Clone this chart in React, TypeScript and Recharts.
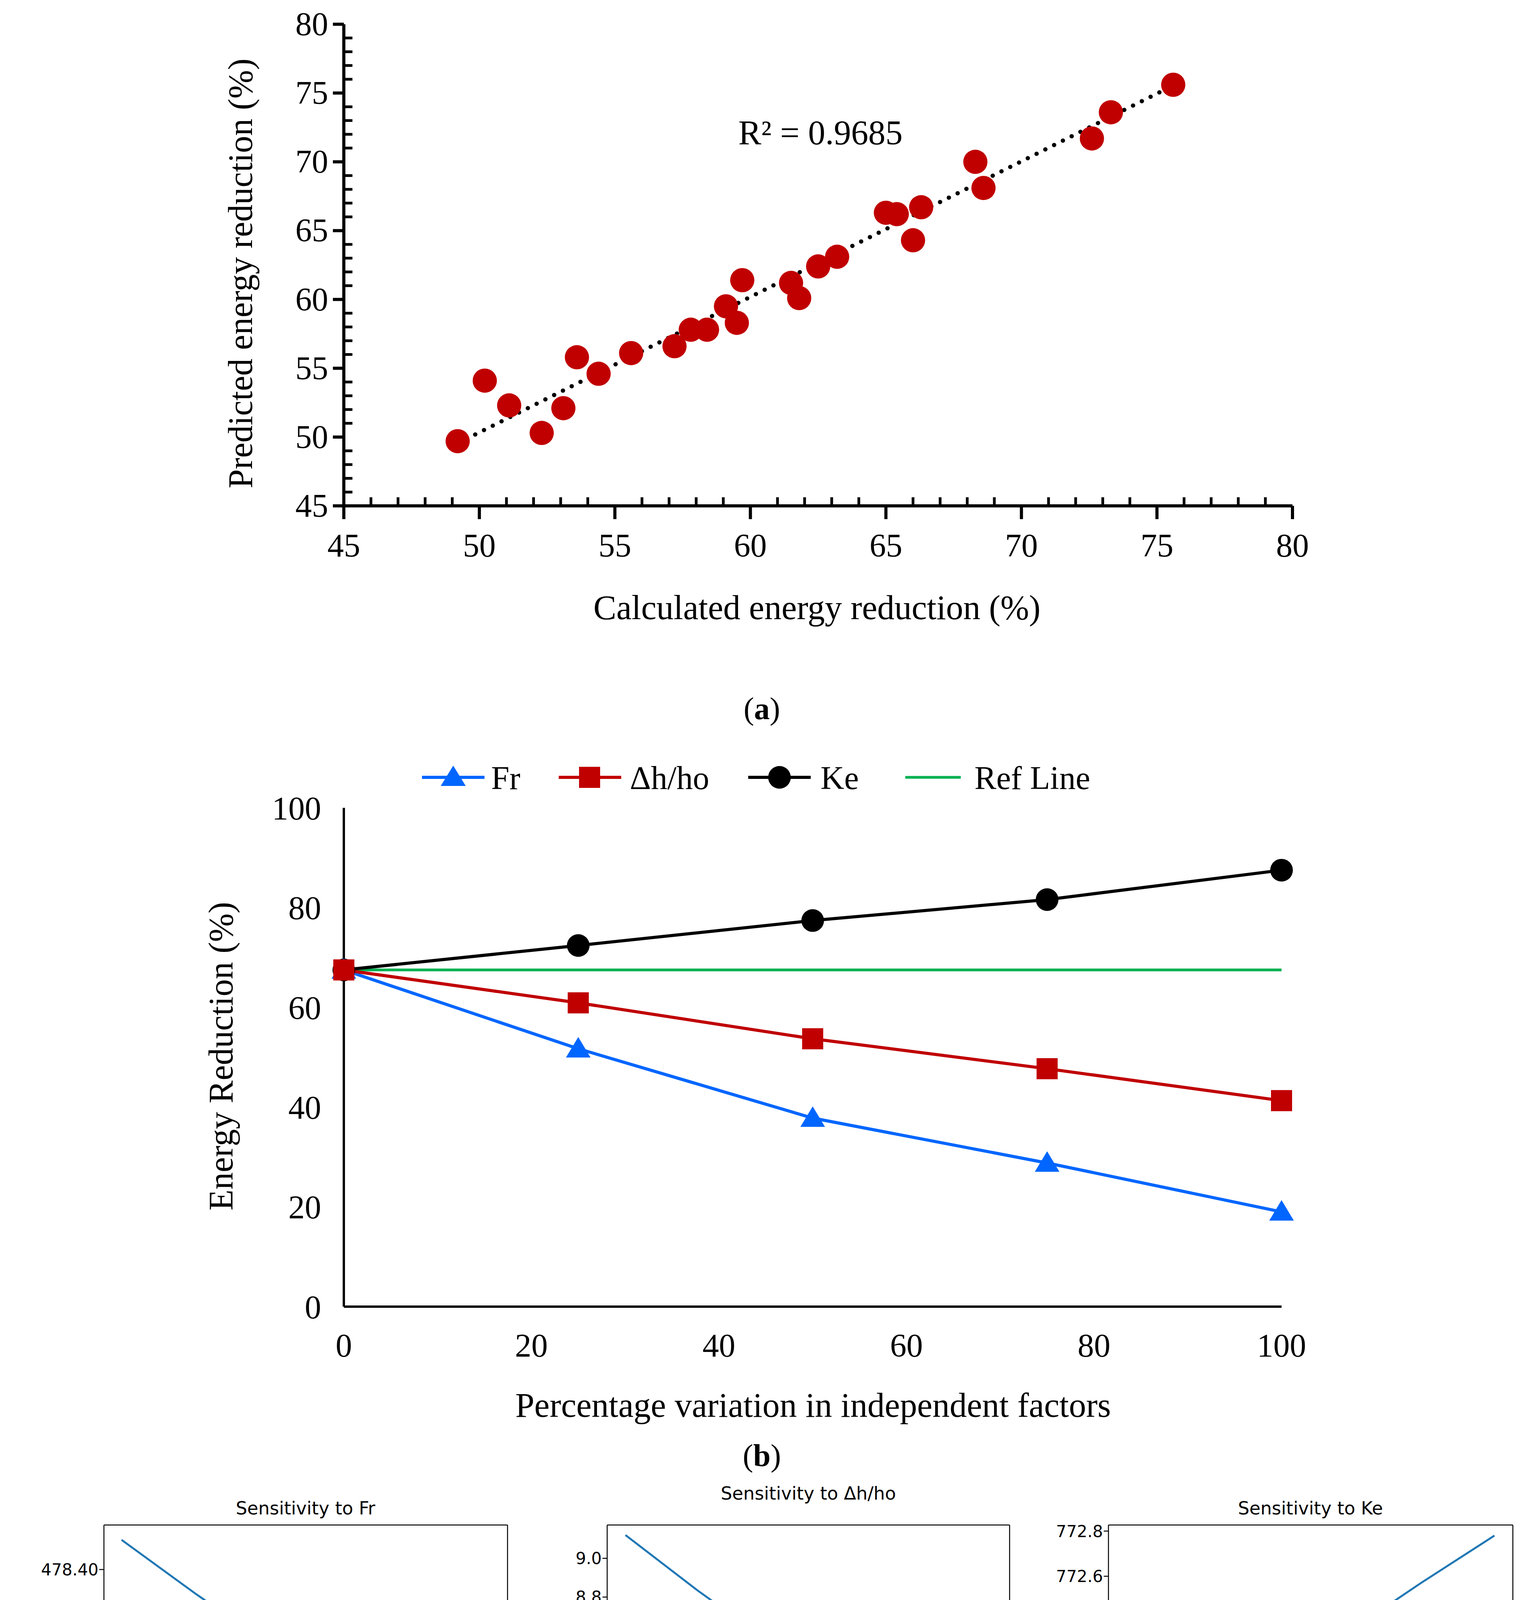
import React from 'react';
import { ScatterChart, Scatter, XAxis, YAxis, LineChart, Line } from 'recharts';

const calc = [49.2,50.2,51.1,52.3,53.1,53.6,54.4,55.6,57.2,57.8,58.4,59.1,59.5,59.7,61.5,61.8,62.5,63.2,65.0,65.4,66.0,66.3,68.3,68.6,72.6,73.3,75.6];
const pred = [49.7,54.1,52.3,50.3,52.1,55.8,54.6,56.1,56.6,57.8,57.8,59.5,58.3,61.4,61.2,60.1,62.4,63.1,66.3,66.2,64.3,66.7,70.0,68.1,71.7,73.6,75.6];
const trendX = [49.2, 75.6];
const trendY = [49.55, 75.55];

const pctVar = [0, 25, 50, 75, 100];
const frVals = [67.5, 51.7, 37.8, 28.8, 19.0];
const dhVals = [67.5, 60.9, 53.7, 47.7, 41.3];
const keVals = [67.5, 72.4, 77.4, 81.6, 87.5];
const refVals = [67.5, 67.5, 67.5, 67.5, 67.5];

const sFrX = [50, 52, 54, 56, 58, 60];
const sFrY = [478.425, 478.380, 478.337, 478.295, 478.254, 478.214];
const sDhX = [150, 152, 154, 156, 158, 160];
const sDhY = [9.12, 8.83, 8.56, 8.28, 8.01, 7.76];
const sKeX = [10, 11, 12, 13, 14, 15];
const sKeY = [771.62, 771.88, 772.12, 772.35, 772.57, 772.78];

const range = (a: number, b: number, s: number) => { const r: number[] = []; for (let v = a; v <= b + 1e-9; v += s) r.push(+v.toFixed(4)); return r; };

const serif = 'Liberation Serif, Times New Roman, serif';
const sans = 'DejaVu Sans, sans-serif';

const scatterData = calc.map((c, i) => ({ x: c, y: pred[i] }));
const trendData = trendX.map((x, i) => ({ x, y: trendY[i] }));
const bData = pctVar.map((p, i) => ({ p, fr: frVals[i], dh: dhVals[i], ke: keVals[i], ref: refVals[i] }));

const Txt = ({ x, y, children, size, font = serif, rotate = false, anchor = 'center' }: any) => (
  <div style={{ position: 'absolute', left: x, top: y, transform: `translate(${anchor === 'left' ? '0' : '-50%'},-50%)${rotate ? ' rotate(-90deg)' : ''}`, fontFamily: font, fontSize: size, whiteSpace: 'nowrap', color: '#000', lineHeight: 1 }}>{children}</div>
);

const XTickA = (p: any) => {
  const { x, y, payload } = p; const v = payload.value; const major = Math.abs(v % 5) < 1e-6;
  return (
    <g>
      {major ? <line x1={x} x2={x} y1={y} y2={y + 34} stroke="#000" strokeWidth={8} /> : <line x1={x} x2={x} y1={y} y2={y - 22} stroke="#000" strokeWidth={7} />}
      {major && <text x={x} y={y + 130} textAnchor="middle" fontSize={84} fontFamily={serif} fill="#000">{v}</text>}
    </g>
  );
};
const YTickA = (p: any) => {
  const { x, y, payload } = p; const v = payload.value; const major = Math.abs(v % 5) < 1e-6;
  return (
    <g>
      {major ? <line x1={x} x2={x - 28} y1={y} y2={y} stroke="#000" strokeWidth={8} /> : <line x1={x} x2={x + 22} y1={y} y2={y} stroke="#000" strokeWidth={7} />}
      {major && <text x={x - 40} y={y + 28} textAnchor="end" fontSize={84} fontFamily={serif} fill="#000">{v}</text>}
    </g>
  );
};

const Tri = (p: any) => { const { cx, cy } = p; if (cx == null) return null; const r = 30; return <polygon points={`${cx},${cy - r} ${cx + r * 1.05},${cy + r * 0.75} ${cx - r * 1.05},${cy + r * 0.75}`} fill="#0066FF" />; };
const Sq = (p: any) => { const { cx, cy } = p; if (cx == null) return null; return <rect x={cx - 27} y={cy - 27} width={54} height={54} fill="#C00000" />; };
const Circ = (p: any) => { const { cx, cy } = p; if (cx == null) return null; return <circle cx={cx} cy={cy} r={29} fill="#000" />; };

function Sens({ left, top, w, h, xs, ys, xd, yd, xt, yt, dec }: any) {
  const data = xs.map((x: number, i: number) => ({ x, y: ys[i] }));
  const M = 300;
  return (
    <div style={{ position: 'absolute', left: left - M, top: top - M, width: w + 2 * M, height: h + 2 * M }}>
      <LineChart width={w + 2 * M} height={h + 2 * M} data={data} margin={{ left: M - 1, right: M - 1, top: M - 1, bottom: M - 1 }}>
        <XAxis xAxisId="b" dataKey="x" type="number" domain={xd} ticks={xt} height={1} tickSize={12} stroke="#000" strokeWidth={2.5} tick={{ fontSize: 42, fontFamily: sans, fill: '#000', dy: 14 }} />
        <XAxis xAxisId="t" dataKey="x" type="number" domain={xd} orientation="top" height={1} tick={false} tickLine={false} stroke="#000" strokeWidth={2.5} />
        <YAxis yAxisId="l" type="number" domain={yd} ticks={yt} width={1} tickSize={12} stroke="#000" strokeWidth={2.5} tickFormatter={(v: number) => v.toFixed(dec)} tick={{ fontSize: 42, fontFamily: sans, fill: '#000' }} />
        <YAxis yAxisId="r" type="number" domain={yd} orientation="right" width={1} tick={false} tickLine={false} stroke="#000" strokeWidth={2.5} />
        <Line xAxisId="b" yAxisId="l" dataKey="y" stroke="#1f77b4" strokeWidth={5} dot={false} isAnimationActive={false} />
      </LineChart>
    </div>
  );
}

export default function App() {
  return (
    <div style={{ position: 'absolute', left: 0, top: 0, width: 3898, height: 4931, background: '#fff', overflow: 'hidden' }}>
      {/* (a) */}
      <div style={{ position: 'absolute', left: 0, top: 0 }}>
        <ScatterChart width={3898} height={1600} margin={{ left: 879, right: 590, top: 62, bottom: 304 }}>
          <XAxis dataKey="x" type="number" domain={[45, 80]} ticks={range(45, 80, 1)} interval={0} height={1} tickSize={0} tickMargin={0} tickLine={false} stroke="#000" strokeWidth={8} tick={<XTickA />} />
          <YAxis dataKey="y" type="number" domain={[45, 80]} ticks={range(45, 80, 1)} interval={0} width={1} tickSize={0} tickMargin={0} tickLine={false} stroke="#000" strokeWidth={8} tick={<YTickA />} />
          <Scatter data={trendData} line={{ stroke: '#000', strokeWidth: 11, strokeDasharray: '0.1 25', strokeLinecap: 'round' }} shape={() => <g />} isAnimationActive={false} />
          <Scatter data={scatterData} shape={(p: any) => <circle cx={p.cx} cy={p.cy} r={31} fill="#C00000" />} isAnimationActive={false} />
        </ScatterChart>
      </div>
      <Txt x={2100} y={340} size={88}>R² = 0.9685</Txt>
      <Txt x={616} y={700} size={88} rotate>Predicted energy reduction (%)</Txt>
      <Txt x={2091} y={1556} size={88}>Calculated energy reduction (%)</Txt>
      <Txt x={1950} y={1814} size={80}>(<b>a</b>)</Txt>

      {/* (b) */}
      <div style={{ position: 'absolute', left: 0, top: 1700 }}>
        <LineChart width={3898} height={2000} data={bData} margin={{ left: 879, right: 618, top: 368, bottom: 354 }}>
          <XAxis dataKey="p" type="number" domain={[0, 100]} ticks={range(0, 100, 20)} height={1} tickLine={false} stroke="#000" strokeWidth={6} tick={{ fontSize: 84, fontFamily: serif, fill: '#000', dy: 60 }} />
          <YAxis type="number" domain={[0, 100]} ticks={range(0, 100, 20)} width={1} tickLine={false} stroke="#000" strokeWidth={6} tick={{ fontSize: 84, fontFamily: serif, fill: '#000', dx: -50 }} />
          <Line dataKey="ref" stroke="#00B050" strokeWidth={7} dot={false} isAnimationActive={false} />
          <Line dataKey="ke" stroke="#000" strokeWidth={8} dot={<Circ />} isAnimationActive={false} />
          <Line dataKey="fr" stroke="#0066FF" strokeWidth={8} dot={<Tri />} isAnimationActive={false} />
          <Line dataKey="dh" stroke="#C00000" strokeWidth={8} dot={<Sq />} isAnimationActive={false} />
        </LineChart>
      </div>
      <svg style={{ position: 'absolute', left: 0, top: 1940 }} width={3898} height={100}>
        <line x1={1080} x2={1240} y1={50} y2={50} stroke="#0066FF" strokeWidth={8} />
        <polygon points="1160,20 1192,72 1128,72" fill="#0066FF" />
        <line x1={1430} x2={1590} y1={50} y2={50} stroke="#C00000" strokeWidth={8} />
        <rect x={1482} y={23} width={54} height={54} fill="#C00000" />
        <line x1={1915} x2={2075} y1={50} y2={50} stroke="#000" strokeWidth={8} />
        <circle cx={1995} cy={50} r={29} fill="#000" />
        <line x1={2317} x2={2459} y1={50} y2={50} stroke="#00B050" strokeWidth={7} />
      </svg>
      <Txt x={1257} y={1992} size={84} anchor="left">Fr</Txt>
      <Txt x={1612} y={1992} size={84} anchor="left">Δh/ho</Txt>
      <Txt x={2100} y={1992} size={84} anchor="left">Ke</Txt>
      <Txt x={2494} y={1992} size={84} anchor="left">Ref Line</Txt>
      <Txt x={566} y={2704} size={88} rotate>Energy Reduction (%)</Txt>
      <Txt x={2081} y={3598} size={88}>Percentage variation in independent factors</Txt>
      <Txt x={1950} y={3726} size={80}>(<b>b</b>)</Txt>

      {/* (c) */}
      <Sens left={266} top={3904} w={1033} h={731} xs={sFrX} ys={sFrY} xd={[49.52, 60.52]} yd={[478.197, 478.4375]} xt={range(50, 60, 2)} yt={[478.25, 478.3, 478.35, 478.4]} dec={2} />
      <Sens left={1554} top={3904} w={1030} h={731} xs={sDhX} ys={sDhY} xd={[149.5, 160.5]} yd={[7.698, 9.172]} xt={range(150, 160, 2)} yt={range(7.8, 9.0, 0.2)} dec={1} />
      <Sens left={2837} top={3904} w={1035} h={731} xs={sKeX} ys={sKeY} xd={[9.75, 15.25]} yd={[771.562, 772.827]} xt={range(10, 15, 1)} yt={range(771.6, 772.8, 0.2)} dec={1} />
      <Txt x={782} y={3861} size={46} font={sans}>Sensitivity to Fr</Txt>
      <Txt x={2069} y={3823} size={46} font={sans}>Sensitivity to Δh/ho</Txt>
      <Txt x={3354} y={3861} size={46} font={sans}>Sensitivity to Ke</Txt>
      <Txt x={94} y={4270} size={44} font={sans} rotate>ΔE</Txt>
      <Txt x={1421} y={4270} size={44} font={sans} rotate>ΔE</Txt>
      <Txt x={2644} y={4270} size={44} font={sans} rotate>ΔE</Txt>
      <Txt x={782} y={4740} size={44} font={sans}>Fr</Txt>
      <Txt x={2069} y={4740} size={44} font={sans}>Δh/ho</Txt>
      <Txt x={3354} y={4740} size={44} font={sans}>Ke</Txt>
      <Txt x={1950} y={4864} size={80}>(<b>c</b>)</Txt>
    </div>
  );
}
